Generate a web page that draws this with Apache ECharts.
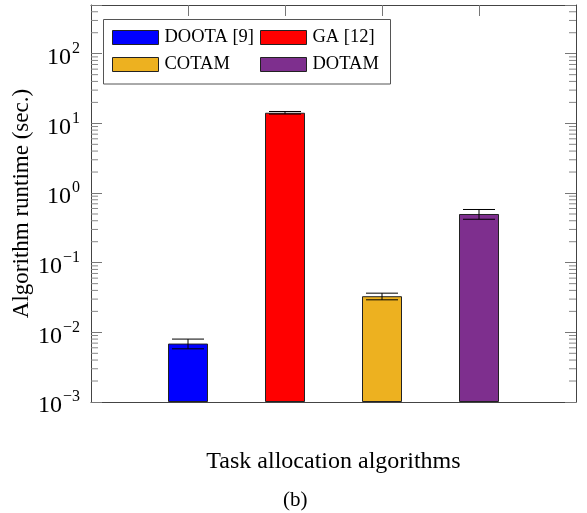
<!DOCTYPE html>
<html><head><meta charset="utf-8">
<script src="https://cdn.jsdelivr.net/npm/echarts@6/dist/echarts.min.js"></script>
<style>html,body{margin:0;padding:0;background:#fff}#c{width:587px;height:513px}</style>
</head><body><div id="c"></div>
<script>
// ---- data ----
const categories = ['', 'DOOTA [9]', 'GA [12]', 'COTAM', 'DOTAM', ''];
const seriesNames = ['DOOTA [9]', 'GA [12]', 'COTAM', 'DOTAM'];
const runtimes = [0.0069, 14.2, 0.033, 0.5];
const errLow = [0.0058, 13.6, 0.0293, 0.42];
const errHigh = [0.0080, 14.8, 0.0365, 0.58];
const colors = ['#0000FF', '#FF0000', '#EDB120', '#7E2F8E'];
const yMin = 0.001, yMax = 500;
const minorTickValues = [
  0.002,0.003,0.004,0.005,0.006,0.007,0.008,0.009,
  0.02,0.03,0.04,0.05,0.06,0.07,0.08,0.09,
  0.2,0.3,0.4,0.5,0.6,0.7,0.8,0.9,
  2,3,4,5,6,7,8,9,
  20,30,40,50,60,70,80,90,
  200,300,400
];
const xTitle = 'Task allocation algorithms';
const yTitle = 'Algorithm runtime (sec.)';
const caption = '(b)';

const FONT = 'Liberation Serif';
const chart = echarts.init(document.getElementById('c'));

function logLabel(v) {
  const l = Math.log10(v);
  const k = Math.round(l);
  if (Math.abs(l - k) > 1e-6) return '';
  return '{b|10}{s|' + (k < 0 ? '\u2212' + (-k) : k) + '}';
}

const barSeries = seriesNames.map((name, i) => ({
  name: name,
  type: 'bar',
  xAxisIndex: 0, yAxisIndex: 0,
  barWidth: 40,
  barGap: '-100%',
  itemStyle: { color: colors[i], borderColor: '#222', borderWidth: 1 },
  data: categories.map((c, idx) => idx === i + 1 ? runtimes[i] : '-'),
  z: 2
}));

const legendPos = [[112, 28], [260, 28], [112, 55], [260, 55]];
const legends = seriesNames.map((name, i) => ({
  data: [name],
  left: legendPos[i][0], top: legendPos[i][1],
  padding: 0,
  icon: 'rect',
  itemWidth: 46, itemHeight: 14,
  itemGap: 0,
  itemStyle: { borderColor: '#222', borderWidth: 1 },
  textStyle: { fontFamily: FONT, fontSize: 18.5, color: '#000', padding: [0, 0, 0, 1] },
  selectedMode: false
}));

const option = {
  backgroundColor: '#fff',
  animation: false,
  color: colors,
  grid: { left: 91, right: 11, top: 5, bottom: 111, containLabel: false, outerBoundsMode: 'none' },
  legend: legends,
  graphic: [
    { type: 'rect', z: 3, shape: { x: 103.5, y: 19.5, width: 287, height: 64.5 },
      style: { fill: '#fff', stroke: '#555', lineWidth: 1 } },
    { type: 'text', left: 283, top: 490,
      style: { text: caption, font: '21px "Liberation Serif"', fill: '#000' } }
  ],
  xAxis: [{
    type: 'category', data: categories, boundaryGap: false, position: 'bottom',
    axisLine: { lineStyle: { color: '#444', width: 1 } },
    axisTick: { show: false },
    axisLabel: { show: false },
    name: xTitle, nameLocation: 'middle', nameGap: 48,
    nameTextStyle: { fontFamily: FONT, fontSize: 24, color: '#000' }
  }, {
    type: 'category', data: categories, boundaryGap: false, position: 'top',
    axisLine: { lineStyle: { color: '#444', width: 1 } },
    axisTick: { show: true, inside: true, length: 11, lineStyle: { color: '#777' },
      interval: (idx) => idx >= 1 && idx <= 4 },
    axisLabel: { show: false }
  }],
  yAxis: [{
    type: 'log', logBase: 10, min: yMin, max: yMax, startValue: yMin,
    position: 'left',
    axisLine: { show: true, lineStyle: { color: '#444', width: 1 } },
    axisTick: { show: true, inside: true, length: 11, lineStyle: { color: '#777' } },
    splitLine: { show: false },
    axisLabel: {
      formatter: logLabel, margin: 11,
      rich: {
        b: { fontFamily: FONT, fontSize: 24, color: '#000', verticalAlign: 'bottom', padding: [0, 0, -3, 0] },
        s: { fontFamily: FONT, fontSize: 16, color: '#000', verticalAlign: 'bottom', padding: [0, 0, 10, 1] }
      }
    },
    name: yTitle, nameLocation: 'middle', nameGap: 58, nameRotate: 90, nameMoveOverlap: false,
    nameTextStyle: { fontFamily: FONT, fontSize: 23, color: '#000', verticalAlign: 'bottom' }
  }, {
    type: 'log', logBase: 10, min: yMin, max: yMax, position: 'right',
    axisLine: { show: true, lineStyle: { color: '#444', width: 1 } },
    axisTick: { show: true, inside: true, length: 11, lineStyle: { color: '#777' } },
    splitLine: { show: false },
    axisLabel: { show: false }
  }],
  series: barSeries.concat([
    {
      name: 'err', type: 'custom', xAxisIndex: 0, yAxisIndex: 0, z: 5,
      data: runtimes.map((v, i) => [i + 1, errLow[i], errHigh[i]]),
      encode: { x: 0, y: [1, 2] },
      renderItem: (params, api) => {
        const x = api.value(0);
        const lo = api.coord([x, api.value(1)]);
        const hi = api.coord([x, api.value(2)]);
        const hw = 16;
        const st = { stroke: '#000', lineWidth: 1 };
        return { type: 'group', children: [
          { type: 'line', shape: { x1: lo[0], y1: lo[1], x2: hi[0], y2: hi[1] }, style: st },
          { type: 'line', shape: { x1: hi[0] - hw, y1: hi[1], x2: hi[0] + hw, y2: hi[1] }, style: st },
          { type: 'line', shape: { x1: lo[0] - hw, y1: lo[1], x2: lo[0] + hw, y2: lo[1] }, style: st }
        ]};
      }
    },
    {
      name: 'minorTicks', type: 'custom', xAxisIndex: 0, yAxisIndex: 0, z: 1,
      silent: true,
      data: minorTickValues.map(v => [0, v]),
      encode: { x: 0, y: 1 },
      renderItem: (params, api) => {
        const y = api.value(1);
        const pL = api.coord([0, y]);
        const pR = api.coord([categories.length - 1, y]);
        const st = { stroke: '#888', lineWidth: 1 };
        return { type: 'group', children: [
          { type: 'line', shape: { x1: pL[0], y1: pL[1], x2: pL[0] + 7, y2: pL[1] }, style: st },
          { type: 'line', shape: { x1: pR[0], y1: pR[1], x2: pR[0] - 7, y2: pR[1] }, style: st }
        ]};
      }
    }
  ])
};
chart.setOption(option);
</script>
</body></html>
